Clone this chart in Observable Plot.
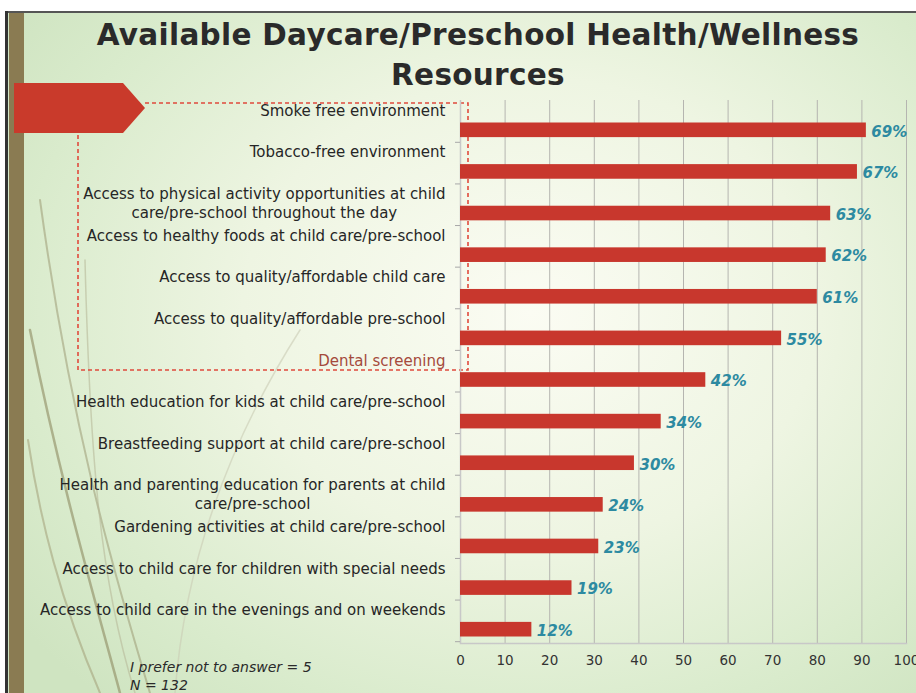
<!DOCTYPE html>
<html>
<head>
<meta charset="utf-8">
<script src="https://cdn.jsdelivr.net/npm/d3@7"></script>
<script src="https://cdn.jsdelivr.net/npm/@observablehq/plot@0.6"></script>
<style>
  html, body { margin: 0; padding: 0; background: #fff; }
  #slide { position: relative; width: 916px; height: 693px; overflow: hidden;
    background: radial-gradient(ellipse 70% 75% at 58% 45%, #fbfcf3 0%, #eef5e2 45%, #d9ebcc 80%, #cfe4c1 100%); }
  #deco { position: absolute; left: 0; top: 0; }
  #chart { position: absolute; left: 0; top: 0; }
  #title { position: absolute; left: 40px; width: 876px; top: 15px; text-align: center;
    font-family: "DejaVu Sans", sans-serif; font-weight: bold; font-size: 29.5px; line-height: 40px;
    color: #2a2a2a; letter-spacing: 0.3px; }
  #notes { position: absolute; left: 130px; top: 658px; font-family: "DejaVu Sans", sans-serif;
    font-style: italic; font-size: 14px; line-height: 18px; color: #2a2a2a; }
</style>
</head>
<body>
<div id="slide">
  <svg id="deco" width="916" height="693">
    <rect x="0" y="0" width="916" height="11" fill="#ffffff"/>
    <rect x="0" y="11" width="916" height="2" fill="#555"/>
    <rect x="0" y="0" width="5" height="693" fill="#ffffff"/>
    <rect x="5" y="11" width="3" height="682" fill="#333"/>
    <rect x="9" y="13" width="15" height="680" fill="#8a7b52"/>
    <g fill="none" stroke-linecap="round">
      <path d="M150 693 C 110 560, 70 420, 40 200" stroke="#9c9a74" stroke-width="2" opacity="0.55"/>
      <path d="M120 693 C 95 600, 60 480, 30 330" stroke="#8d8a60" stroke-width="2.5" opacity="0.6"/>
      <path d="M135 693 C 100 580, 90 460, 85 260" stroke="#b7b99a" stroke-width="1.5" opacity="0.6"/>
      <path d="M100 693 C 60 600, 40 520, 28 440" stroke="#9e9870" stroke-width="2" opacity="0.5"/>
      <path d="M175 693 C 185 560, 230 440, 300 330" stroke="#c9ccb4" stroke-width="1.5" opacity="0.6"/>
    </g>
    <polygon points="14,83 123,83 145,108 123,133 14,133" fill="#c93a2b"/>
    <g fill="none" stroke="#e04a3c" stroke-width="1.6" stroke-dasharray="4 3">
      <path d="M145 103 L 468 103 L 468 370 L 78 370 L 78 133"/>
    </g>
  </svg>
  <div id="chart"></div>
  <div id="title">Available Daycare/Preschool Health/Wellness<br>Resources</div>
  <div id="notes"></div>
</div>
<script>
const categories = [
  "Smoke free environment",
  "Tobacco-free environment",
  "Access to physical activity opportunities at child\ncare/pre-school throughout the day",
  "Access to healthy foods at child care/pre-school",
  "Access to quality/affordable child care",
  "Access to quality/affordable pre-school",
  "Dental screening",
  "Health education for kids at child care/pre-school",
  "Breastfeeding support at child care/pre-school",
  "Health and parenting education for parents at child\ncare/pre-school",
  "Gardening activities at child care/pre-school",
  "Access to child care for children with special needs",
  "Access to child care in the evenings and on weekends"
];
const counts = [91, 89, 83, 82, 80, 72, 55, 45, 39, 32, 31, 25, 16];
const percents = [69, 67, 63, 62, 61, 55, 42, 34, 30, 24, 23, 19, 12];
const xTicks = [0, 10, 20, 30, 40, 50, 60, 70, 80, 90, 100];
const notes = ["I prefer not to answer = 5", "N = 132"];
const highlighted = "Dental screening";

document.getElementById("notes").innerHTML = notes.join("<br>");

const data = categories.map((c, i) => ({category: c, count: counts[i], pct: percents[i]}));

const chart = Plot.plot({
  width: 916,
  height: 693,
  marginLeft: 460,
  marginRight: 10,
  marginTop: 100,
  marginBottom: 50,
  style: {background: "transparent", fontFamily: "DejaVu Sans, sans-serif"},
  x: {domain: [0, 100], label: null},
  y: {domain: categories, range: [109, 650], padding: 0, round: false, label: null},
  marks: [
    Plot.gridX(xTicks, {stroke: "#b5b5b0", strokeOpacity: 1, strokeWidth: 1}),
    Plot.ruleX([0], {stroke: "#c8c8c8", strokeWidth: 1.5}),
    Plot.frame({anchor: "bottom", stroke: "#c8c8c8", strokeWidth: 1.5}),
    Plot.axisY({tickSize: 5, tickFormat: () => "", stroke: "#a8a8a8", dy: 12, label: null}),
    Plot.axisX(xTicks, {tickSize: 0, tickPadding: 12, fontSize: 13.5, fill: "#333", tickFormat: d => String(d), label: null}),
    Plot.barX(data, {x: "count", y: "category", fill: "#c8372d", insetTop: 13.5, insetBottom: 13.5}),
    Plot.text(data, {x: "count", y: "category", text: d => d.pct + "%", textAnchor: "start", dx: 5, dy: 1.5,
      fill: "#2d8aa1", fontWeight: "bold", fontStyle: "italic", fontSize: 15}),
    Plot.text(data, {y: "category", text: "category", frameAnchor: "left", textAnchor: "end", dx: -15, dy: -28,
      lineAnchor: "top", lineHeight: 1.27, fontSize: 15,
      fill: d => d.category === highlighted ? "#a44a3c" : "#262626"})
  ]
});
document.getElementById("chart").appendChild(chart);

// centre multi-line labels as a block, right-aligned overall
chart.querySelectorAll("text").forEach(t => {
  const spans = t.querySelectorAll("tspan");
  if (spans.length > 1) {
    let w = 0;
    spans.forEach(s => { w = Math.max(w, s.getComputedTextLength()); });
    t.setAttribute("text-anchor", "middle");
    spans.forEach(s => {
      const x0 = parseFloat(s.getAttribute("x") || "0");
      s.setAttribute("x", x0 - w / 2);
    });
  }
});
</script>
</body>
</html>
